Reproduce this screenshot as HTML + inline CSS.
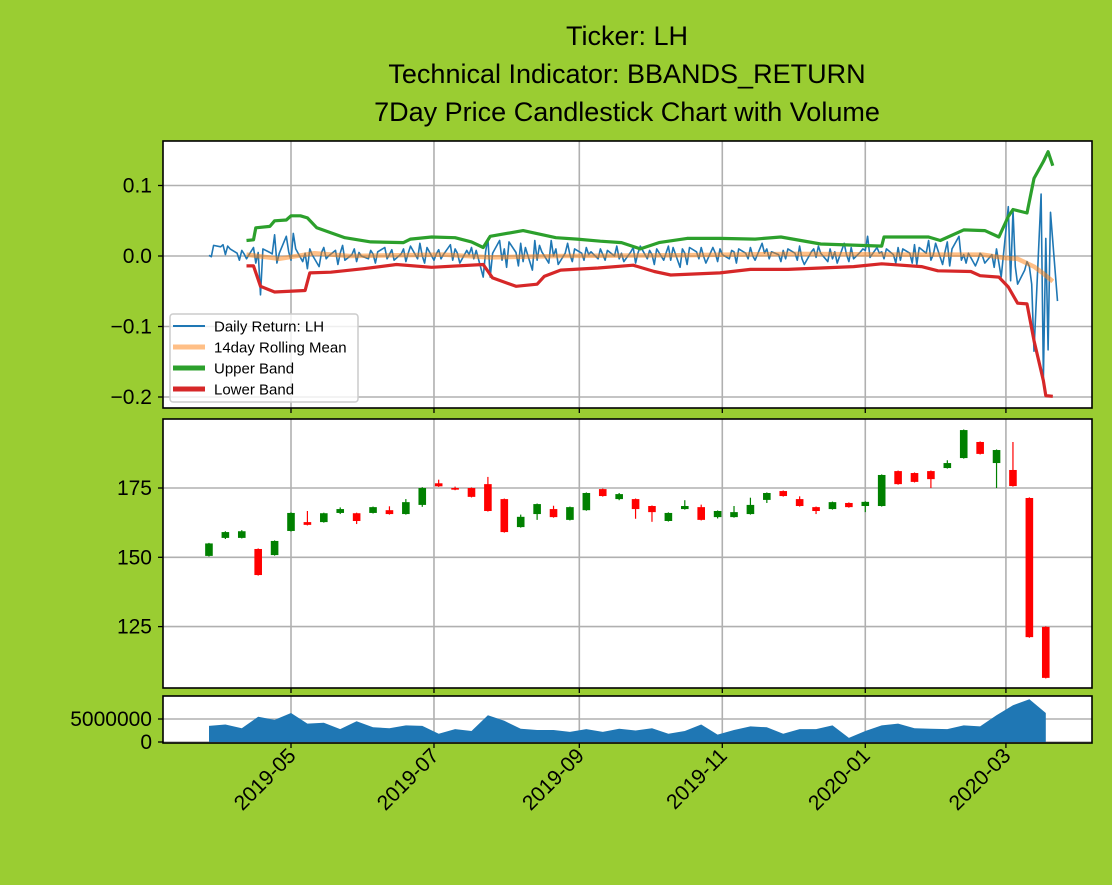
<!DOCTYPE html>
<html><head><meta charset="utf-8"><style>
body{margin:0;background:#9acd32;}
svg{display:block;font-family:"Liberation Sans","DejaVu Sans",sans-serif;}
</style></head><body>
<svg id="c" width="1112" height="885" xmlns="http://www.w3.org/2000/svg">
<rect width="1112" height="885" fill="#9acd32"/>
<text x="627" y="45" text-anchor="middle" font-size="27">Ticker: LH</text>
<text x="627" y="83" text-anchor="middle" font-size="27">Technical Indicator: BBANDS_RETURN</text>
<text x="627" y="121" text-anchor="middle" font-size="27">7Day Price Candlestick Chart with Volume</text>
</svg>
<script>
const returnStart = "2019-03-27";
const returns = [
0.001,-0.001,0.015,0.013,0.016,0.002,0.014,0.010,0.004,-0.006,0.008,0.003,-0.004,0.012,-0.010,0.005,-0.055,0.010,0.005,0.003,
0.030,-0.010,0.004,0.028,0.006,-0.006,0.032,0.010,-0.008,0.004,-0.018,0.010,0.002,-0.015,0.005,0.012,-0.004,0.000,0.008,-0.012,
0.004,0.015,-0.006,0.002,0.010,-0.008,0.005,0.000,-0.004,0.008,0.003,-0.010,0.006,0.012,-0.004,0.002,0.009,-0.006,0.003,0.010,
-0.008,0.004,0.014,-0.004,0.018,0.000,-0.010,0.012,-0.006,0.003,0.009,-0.004,0.002,0.016,-0.006,0.010,0.004,-0.010,0.008,0.002,
0.012,-0.004,0.008,-0.030,0.006,0.025,-0.030,0.004,0.022,-0.006,0.010,-0.016,0.020,0.005,-0.014,0.018,-0.008,0.012,-0.020,0.022,
-0.006,0.015,0.006,-0.010,0.022,0.000,0.010,-0.012,0.004,0.018,0.002,-0.008,0.010,0.004,-0.006,0.012,0.002,0.006,-0.004,0.010,
0.002,-0.006,0.008,0.000,0.014,-0.004,0.004,-0.008,0.006,0.012,-0.010,0.004,0.014,-0.004,0.008,0.002,-0.012,0.010,-0.006,0.004,
0.014,-0.006,0.012,-0.016,0.010,0.004,-0.012,0.012,0.006,-0.004,0.012,0.000,-0.010,0.012,0.004,-0.008,0.010,0.002,-0.004,0.008,
0.006,-0.010,0.010,0.004,-0.004,0.012,0.000,-0.006,0.018,0.004,0.010,-0.004,0.006,0.002,-0.008,0.008,-0.004,0.010,0.004,-0.006,
0.014,-0.004,-0.012,0.006,0.010,-0.002,0.014,0.004,-0.008,0.010,-0.004,0.006,-0.010,0.018,0.002,-0.008,0.012,-0.004,0.006,0.010,
0.008,0.028,-0.002,0.012,0.004,0.006,-0.004,0.010,0.002,-0.010,0.012,-0.006,0.010,0.004,-0.010,0.016,-0.012,0.012,0.004,0.022,
-0.006,0.002,0.018,-0.012,0.006,0.020,-0.014,0.010,0.028,-0.006,0.002,-0.010,0.004,-0.014,-0.006,0.004,0.000,-0.010,0.002,-0.016,
0.010,-0.010,-0.030,0.070,-0.035,0.065,-0.015,-0.040,-0.020,-0.008,-0.015,-0.040,-0.135,0.088,-0.173,0.025,-0.133,0.062,-0.064];
const upperDays = [16,19,20,26,28,33,35,39,42,46,52,58,69,83,86,95,105,112,117,120,134,148,157,167,176,184,192,204,218,233,244,261,287,288,307,312,322,331,337,341,343,349,352,356,358,360];
const upperBand = [0.022,0.023,0.040,0.042,0.050,0.051,0.057,0.057,0.054,0.040,0.033,0.026,0.020,0.019,0.024,0.027,0.026,0.020,0.012,0.028,0.036,0.026,0.024,0.021,0.019,0.010,0.019,0.025,0.025,0.024,0.027,0.017,0.014,0.027,0.027,0.022,0.037,0.036,0.027,0.056,0.066,0.061,0.110,0.134,0.148,0.128];
const lowerDays = [16,19,22,28,41,43,52,66,80,95,117,121,131,140,143,150,166,181,190,197,218,231,247,275,287,304,311,325,329,337,341,345,349,352,356,357,360];
const lowerBand = [-0.014,-0.014,-0.043,-0.051,-0.049,-0.024,-0.023,-0.018,-0.012,-0.016,-0.012,-0.031,-0.043,-0.040,-0.029,-0.020,-0.017,-0.013,-0.022,-0.027,-0.024,-0.019,-0.019,-0.015,-0.011,-0.015,-0.021,-0.022,-0.028,-0.030,-0.044,-0.067,-0.068,-0.120,-0.177,-0.198,-0.199];
const meanDays = [16,30,45,60,100,120,150,200,250,300,330,340,345,352,356,360];
const rollingMean = [0.002,-0.004,0.004,0.000,0.002,-0.002,0.000,0.001,0.003,0.002,0.002,-0.003,-0.004,-0.015,-0.025,-0.036];
const candleDates = ["2019-03-27","2019-04-03","2019-04-10","2019-04-17","2019-04-24","2019-05-01","2019-05-08","2019-05-15","2019-05-22","2019-05-29","2019-06-05","2019-06-12","2019-06-19","2019-06-26","2019-07-03","2019-07-10","2019-07-17","2019-07-24","2019-07-31","2019-08-07","2019-08-14","2019-08-21","2019-08-28","2019-09-04","2019-09-11","2019-09-18","2019-09-25","2019-10-02","2019-10-09","2019-10-16","2019-10-23","2019-10-30","2019-11-06","2019-11-13","2019-11-20","2019-11-27","2019-12-04","2019-12-11","2019-12-18","2019-12-25","2020-01-01","2020-01-08","2020-01-15","2020-01-22","2020-01-29","2020-02-05","2020-02-12","2020-02-19","2020-02-26","2020-03-04","2020-03-11","2020-03-18"];
const opens = [150.5,157.0,157.0,153.0,150.8,159.5,162.7,162.7,166.0,165.9,166.0,167.0,165.6,168.9,176.7,175.0,175.0,176.4,171.0,160.9,165.6,167.4,163.5,167.0,174.6,171.0,171.0,168.5,163.1,167.4,168.1,164.5,164.5,165.6,170.7,173.9,171.0,168.1,167.4,169.6,168.5,168.5,181.1,180.4,181.1,182.2,185.8,191.6,184.0,181.5,171.4,124.9];
const closes = [155.0,159.1,159.4,143.6,155.9,166.0,161.7,165.9,167.4,163.1,168.1,165.6,169.9,175.0,175.6,174.4,171.8,166.7,159.1,164.6,169.2,164.5,168.1,173.2,172.1,172.8,167.4,166.3,166.0,168.5,163.5,166.7,166.3,168.9,173.2,172.1,168.5,166.7,169.9,168.1,170.0,179.7,176.4,177.2,178.2,184.0,195.9,187.3,188.7,175.7,121.2,106.5];
const highs = [155.2,159.4,159.8,153.2,156.1,166.2,166.7,166.1,168.0,166.1,168.3,168.4,171.0,175.3,178.0,175.5,175.2,179.0,171.2,165.4,169.4,168.6,168.3,173.4,174.8,173.2,171.2,168.7,166.2,170.6,169.0,166.9,168.5,171.5,173.4,174.1,172.0,168.3,170.1,169.8,170.2,179.9,181.3,180.6,181.3,185.0,196.1,191.8,188.9,191.6,171.6,125.1];
const lows = [150.3,156.6,156.8,143.4,150.6,159.3,161.5,162.5,165.6,162.0,165.8,165.4,165.4,168.2,175.4,174.2,171.6,166.5,158.9,160.7,163.5,164.3,163.3,166.8,171.9,170.6,163.9,162.8,162.9,167.2,163.3,164.0,164.3,165.4,169.6,171.9,168.3,165.6,167.2,167.9,166.3,168.3,176.2,177.0,175.0,182.0,185.6,187.1,175.0,175.5,121.0,106.3];
const volumes = [3.5,3.8,3.0,5.5,4.8,6.3,4.0,4.2,2.8,4.5,3.2,3.0,3.6,3.5,1.8,2.8,2.4,5.8,4.6,2.9,2.6,2.6,2.2,2.8,2.2,2.9,2.5,3.0,1.8,2.4,3.8,1.6,2.6,3.4,3.2,1.8,2.8,2.8,3.6,0.9,2.4,3.6,4.0,3.0,2.9,2.8,3.6,3.4,5.8,8.0,9.3,6.3].map(v=>v*1e6);
const xTickLabels = ["2019-05","2019-07","2019-09","2019-11","2020-01","2020-03"];
const topTicks = [0.1,0.0,-0.1,-0.2];
const topTickLabels = ["0.1","0.0","\u22120.1","\u22120.2"];
const midTicks = [125,150,175];
const volTicks = [0,5000000];

const NS="http://www.w3.org/2000/svg";
const svg=document.getElementById('c');
const DAY=86400000;
const t0=Date.UTC(2019,4,1);
const startMs=Date.parse(returnStart);
function xDate(ms){return 291+(ms-t0)/DAY*2.344;}
function xs(s){return xDate(Date.parse(s));}
const L=163,R=1092;
const yTop=v=>256-v*705;
const yMid=v=>488-(v-175)*2.772;
const yVol=v=>742-v*4.6e-6;
function el(tag,attrs,parent){const e=document.createElementNS(NS,tag);for(const k in attrs)e.setAttribute(k,attrs[k]);(parent||svg).appendChild(e);return e;}
const panels=[{top:141,bot:408,name:'returns-panel'},{top:419,bot:688,name:'price-panel'},{top:696,bot:743,name:'volume-panel'}];
const tickX=xTickLabels.map(s=>xs(s+"-01"));
panels.forEach((p,pi)=>{
  const g=el('g',{});
  
  
  const bg=el('rect',{x:L,y:p.top,width:R-L,height:p.bot-p.top,fill:'#fff'},g);
  
  
  tickX.forEach(x=>{const gl=el('line',{x1:x,x2:x,y1:p.top,y2:p.bot,stroke:'#b0b0b0','stroke-width':1.6},g);
    
    const tk=el('line',{x1:x,x2:x,y1:p.bot,y2:p.bot+5,stroke:'#000','stroke-width':1.3},g);
    });
  p.g=g;
});
function yAxis(g,ticks,labels,fy){
  ticks.forEach((v,i)=>{const y=fy(v);
    const gl=el('line',{x1:L,x2:R,y1:y,y2:y,stroke:'#b0b0b0','stroke-width':1.6},g);
    
    const tk=el('line',{x1:L-5,x2:L,y1:y,y2:y,stroke:'#000','stroke-width':1.3},g);
    
    const t=el('text',{x:L-11,y:y+7,'text-anchor':'end','font-size':21},g);t.textContent=labels[i];
    });
}
yAxis(panels[0].g,topTicks,topTickLabels,yTop);
yAxis(panels[1].g,midTicks,midTicks.map(String),yMid);
yAxis(panels[2].g,volTicks,volTicks.map(String),yVol);

function bizDates(n){const out=[];let d=startMs;while(out.length<n){const wd=new Date(d).getUTCDay();if(wd!==0&&wd!==6)out.push(d);d+=DAY;}return out;}
const rd=bizDates(returns.length);
function poly(pts,stroke,w,op,name){const p=el('polyline',{points:pts.map(q=>q[0].toFixed(1)+','+q[1].toFixed(1)).join(' '),fill:'none',stroke:stroke,'stroke-width':w,'stroke-opacity':op,'stroke-linejoin':'round'},panels[0].g);
  }
poly(returns.map((v,i)=>[xDate(rd[i]),yTop(v)]),'#1f77b4',1.6,1,'daily-return-line');
poly(rollingMean.map((v,i)=>[xDate(startMs+meanDays[i]*DAY),yTop(v)]),'#ff7f0e',4.5,0.5,'rolling-mean-line');
poly(upperBand.map((v,i)=>[xDate(startMs+upperDays[i]*DAY),yTop(v)]),'#2ca02c',3.2,1,'upper-band-line');
poly(lowerBand.map((v,i)=>[xDate(startMs+lowerDays[i]*DAY),yTop(v)]),'#d62728',3.2,1,'lower-band-line');

candleDates.forEach((d,i)=>{const x=xs(d);const up=closes[i]>=opens[i];const col=up?'#008000':'#ff0000';
  const g=el('g',{},panels[1].g);
  
  el('line',{x1:x,x2:x,y1:yMid(highs[i]),y2:yMid(lows[i]),stroke:col,'stroke-width':1.2},g);
  const yt=yMid(Math.max(opens[i],closes[i])),yb=yMid(Math.min(opens[i],closes[i]));
  el('rect',{x:x-3.8,y:yt,width:7.6,height:Math.max(1,yb-yt),fill:col},g);
});
const vp=volumes.map((v,i)=>[xs(candleDates[i]),yVol(v)]);
const ap=[[vp[0][0],yVol(0)],...vp,[vp[vp.length-1][0],yVol(0)]];
const area=el('polygon',{points:ap.map(q=>q[0].toFixed(1)+','+q[1].toFixed(1)).join(' '),fill:'#1f77b4'},panels[2].g);


panels.forEach(p=>{const f=el('rect',{x:L,y:p.top,width:R-L,height:p.bot-p.top,fill:'none',stroke:'#000','stroke-width':1.6},p.g);
  });

tickX.forEach((x,i)=>{const t=el('text',{x:x+6,y:757,'text-anchor':'end','font-size':21,transform:`rotate(-45 ${x+6} 757)`});
  t.textContent=xTickLabels[i];
  });

const lg=el('g',{});

el('rect',{x:170,y:314,width:188,height:88,rx:3,fill:'#fff','fill-opacity':0.8,stroke:'#cccccc','stroke-width':1.5},lg);
const legItems=[['Daily Return: LH','#1f77b4',2,1],['14day Rolling Mean','#ff7f0e',5,0.5],['Upper Band','#2ca02c',5,1],['Lower Band','#d62728',5,1]];
legItems.forEach((it,i)=>{const y=326+i*21;
  const e=el('g',{},lg);
  
  el('line',{x1:173,x2:205,y1:y,y2:y,stroke:it[1],'stroke-width':it[2],'stroke-opacity':it[3]},e);
  const t=el('text',{x:214,y:y+5.5,'font-size':15},e);t.textContent=it[0];});
</script>
</body></html>
